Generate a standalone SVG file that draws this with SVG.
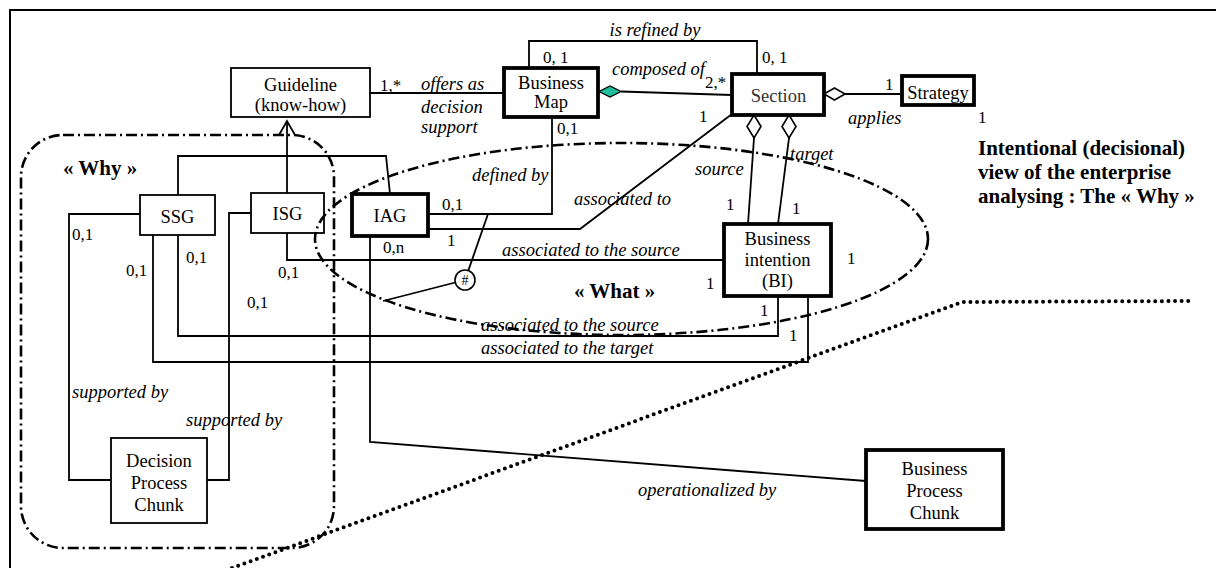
<svg xmlns="http://www.w3.org/2000/svg" width="1216" height="568" viewBox="0 0 1216 568" font-family="'Liberation Serif', 'Times New Roman', 'DejaVu Serif', serif">
<defs>
<style>
text{font-family:'Liberation Serif','Times New Roman','DejaVu Serif',serif;fill:#000}
.n{font-size:18.5px;text-anchor:middle}
.i{font-size:18.5px;font-style:italic}
.m{font-size:17px}
.bt{font-size:21px;font-weight:bold}
.thin{fill:#fff;stroke:#000;stroke-width:1.8}
.thick{fill:#fff;stroke:#000;stroke-width:3.8}
.c{fill:none;stroke:#000;stroke-width:1.8}
.dd{fill:none;stroke:#000;stroke-width:2.6;stroke-dasharray:11 4 2 4}
.dot{fill:none;stroke:#000;stroke-width:4;stroke-linecap:round;stroke-dasharray:0 6.6}
</style>
</defs>
<rect width="1216" height="568" fill="#fff"/>
<path d="M10,568 V10 H1216" fill="none" stroke="#000" stroke-width="2"/>

<g id="connectors">
<path class="c" d="M370,93 H504"/>
<path class="c" d="M529,68 V41 H757 V73"/>
<path class="c" d="M621,91.5 L732,95"/>
<polygon points="599,91.5 610,86 621,91.5 610,97" fill="#1fbf9b" stroke="#000" stroke-width="1.3"/>
<path class="c" d="M845,94 H902"/>
<polygon points="824,94 834.5,88 845,94 834.5,100" fill="#fff" stroke="#000" stroke-width="1.6"/>
<path class="c" d="M754,138 L748,224"/>
<polygon points="754,115 761,126.5 754,138 747,126.5" fill="#fff" stroke="#000" stroke-width="1.6"/>
<path class="c" d="M789,138 L778,224"/>
<polygon points="789,115 796,126.5 789,138 782,126.5" fill="#fff" stroke="#000" stroke-width="1.6"/>
<path class="c" d="M428,229 H580 L732,114" stroke-width="2.4"/>
<path class="c" d="M552,117 V214 H428"/>
<path class="c" d="M488,214 L468.3,270.6"/>
<path class="c" d="M455.3,282.5 L383,301"/>
<path class="c" d="M724,260 H287 V233"/>
<path class="c" d="M778,296 V336 H178 V235"/>
<path class="c" d="M808,296 V362 H153 V235"/>
<path class="c" d="M140,214 H69 V480 H111"/>
<path class="c" d="M251,213 H229 V480 H207"/>
<path class="c" d="M287,121 V193" stroke-width="2.4"/>
<path class="c" d="M178,195 V156 H386 L390,194"/>
<path class="c" d="M279,135 L287,121 L295,135" stroke-width="2.8"/>
<path class="c" d="M370,236 V442 L866,481"/>
</g>

<g id="constraint-hash">
<circle cx="465" cy="280" r="10" fill="#fff" stroke="#000" stroke-width="1.6"/>
<text x="465" y="285" font-size="14" text-anchor="middle">#</text>
</g>

<g id="node-guideline">
<rect class="thin" x="231" y="68" width="139" height="49"/>
<text class="n" x="300.5" y="91">Guideline</text>
<text class="n" x="300.5" y="111">(know-how)</text>
</g>
<g id="node-business-map">
<rect class="thick" x="504" y="68" width="94" height="49"/>
<text class="n" x="551" y="89">Business</text>
<text class="n" x="551" y="108">Map</text>
</g>
<g id="node-section">
<rect class="thick" x="732" y="74" width="92" height="41" stroke-width="3"/>
<text class="n" x="778.5" y="102" style="fill:#333">Section</text>
</g>
<g id="node-strategy">
<rect class="thick" x="902" y="76" width="72" height="29"/>
<text class="n" x="938" y="99">Strategy</text>
</g>
<g id="node-ssg">
<rect class="thin" x="140" y="195" width="75" height="40"/>
<text class="n" x="177.5" y="223">SSG</text>
</g>
<g id="node-isg">
<rect class="thin" x="251" y="193" width="73" height="40"/>
<text class="n" x="287.5" y="220">ISG</text>
</g>
<g id="node-iag">
<rect class="thick" x="352" y="194" width="76" height="42"/>
<text class="n" x="390" y="222">IAG</text>
</g>
<g id="node-business-intention">
<rect class="thick" x="724" y="224" width="107" height="72"/>
<text class="n" x="777.5" y="245">Business</text>
<text class="n" x="777.5" y="266">intention</text>
<text class="n" x="777.5" y="287">(BI)</text>
</g>
<g id="node-decision-process-chunk">
<rect class="thin" x="111" y="438" width="96" height="85"/>
<text class="n" x="159" y="467">Decision</text>
<text class="n" x="159" y="489">Process</text>
<text class="n" x="159" y="511">Chunk</text>
</g>
<g id="node-business-process-chunk">
<rect class="thick" x="866" y="450" width="137" height="79"/>
<text class="n" x="934.5" y="475">Business</text>
<text class="n" x="934.5" y="497">Process</text>
<text class="n" x="934.5" y="519">Chunk</text>
</g>

<g id="regions">
<rect class="dd" x="21" y="135" width="313" height="413" rx="42"/>
<ellipse class="dd" cx="621.5" cy="239" rx="306.5" ry="96"/>
<path class="dot" d="M232,568 L962,302 L1192,301"/>
</g>

<g id="labels">
<text class="m" x="380" y="91">1,*</text>
<text class="i" x="421" y="90">offers as</text>
<text class="i" x="421" y="113">decision</text>
<text class="i" x="421" y="133">support</text>
<text class="i" x="655" y="36" text-anchor="middle">is refined by</text>
<text class="m" x="543" y="63">0, 1</text>
<text class="m" x="762" y="63">0, 1</text>
<text class="i" x="612" y="75">composed of</text>
<text class="m" x="705" y="88">2,*</text>
<text class="m" x="885" y="90">1</text>
<text class="i" x="848" y="124">applies</text>
<text class="m" x="978" y="123">1</text>
<text class="i" x="695" y="175">source</text>
<text class="i" x="790" y="160">target</text>
<text class="m" x="726" y="210">1</text>
<text class="m" x="792" y="214">1</text>
<text class="m" x="699" y="122">1</text>
<text class="i" x="574" y="205">associated to</text>
<text class="m" x="557" y="134">0,1</text>
<text class="i" x="472" y="181">defined by</text>
<text class="m" x="442" y="210">0,1</text>
<text class="m" x="447" y="246">1</text>
<text class="m" x="383" y="253">0,n</text>
<text class="i" x="502" y="256">associated to the source</text>
<text class="m" x="278" y="278">0,1</text>
<text class="m" x="706" y="289">1</text>
<text class="m" x="847" y="264">1</text>
<text class="m" x="760" y="316">1</text>
<text class="m" x="789" y="341">1</text>
<text class="i" x="481" y="331">associated to the source</text>
<text class="i" x="481" y="354">associated to the target</text>
<text class="m" x="72" y="240">0,1</text>
<text class="m" x="126" y="276">0,1</text>
<text class="m" x="186" y="263">0,1</text>
<text class="m" x="247" y="308">0,1</text>
<text class="i" x="72" y="398">supported by</text>
<text class="i" x="186" y="426">supported by</text>
<text class="i" x="638" y="496">operationalized by</text>
<text class="bt" x="63" y="175">« Why »</text>
<text class="bt" x="574" y="298">« What »</text>
<text class="bt" x="978" y="155">Intentional (decisional)</text>
<text class="bt" x="978" y="179">view of the enterprise</text>
<text class="bt" x="978" y="203">analysing : The « Why »</text>
</g>
</svg>
